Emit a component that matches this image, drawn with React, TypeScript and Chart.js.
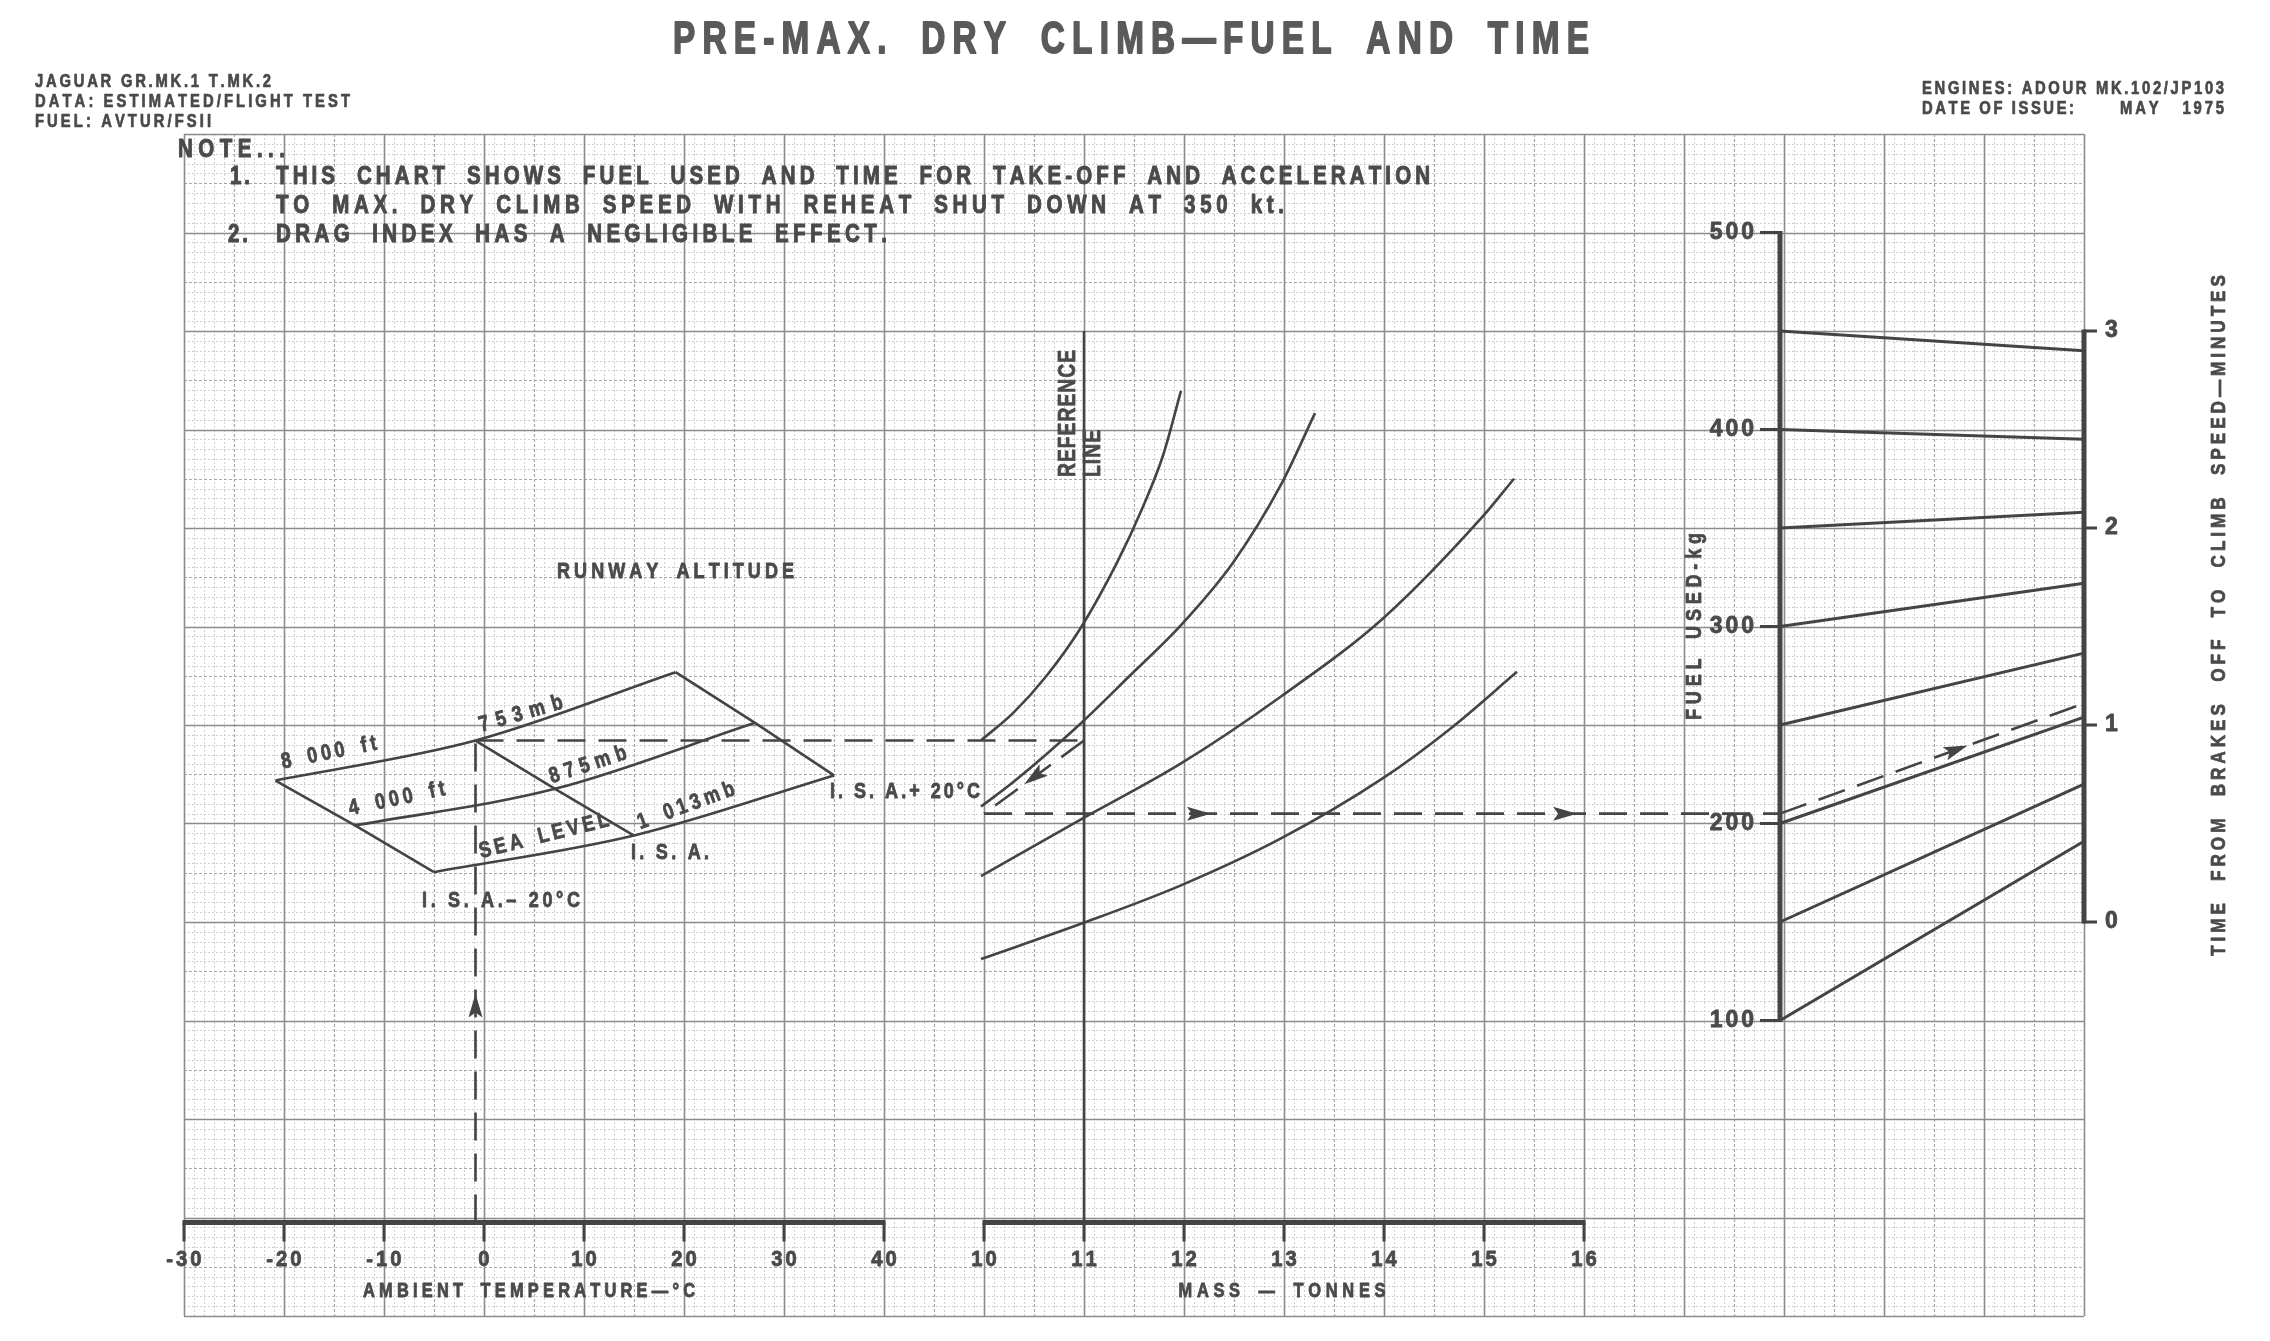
import React, { useEffect, useRef } from 'react';
import { Chart, registerables } from 'chart.js';

Chart.register(...registerables);

// ---------------- axis ticks ----------------
const TEMP_TICKS = [-30, -20, -10, 0, 10, 20, 30, 40];
const MASS_TICKS = [10, 11, 12, 13, 14, 15, 16];
const FUEL_TICKS = [100, 200, 300, 400, 500];
const TIME_TICKS = [0, 1, 2, 3];

// ---------------- left panel: runway altitude (x = ambient temp °C, y = carried value on fuel scale)
// points ordered: I.S.A.-20, I.S.A., I.S.A.+20
const ALT_8000_TEMP = [-20.85, -0.85, 19.15];
const ALT_8000_VAL = [221.8, 242.1, 276.8];
const ALT_4000_TEMP = [-12.9, 7.1, 27.1];
const ALT_4000_VAL = [199.0, 217.6, 251.1];
const ALT_SL_TEMP = [-5, 15, 35];
const ALT_SL_VAL = [175.3, 193.9, 224.4];

// ---------------- middle panel: mass correction guide curves (x = mass t, y = fuel scale)
const CURVE_A_MASS = [9.97, 10.29, 10.62, 10.97, 11.33, 11.58, 11.79, 11.97];
const CURVE_A_VAL = [242.2, 256.0, 274.6, 299.5, 332.4, 359.6, 386.8, 419.6];
const CURVE_B_MASS = [9.97, 10.29, 10.97, 11.45, 11.97, 12.49, 12.97, 13.31];
const CURVE_B_VAL = [208.6, 220.9, 250.9, 274.6, 300.7, 332.4, 372.0, 408.3];
const CURVE_C_MASS = [9.97, 10.97, 11.97, 12.97, 13.99, 14.99, 15.3];
const CURVE_C_VAL = [173.3, 202.1, 230.5, 264.5, 304.1, 356.0, 375.0];
const CURVE_D_MASS = [9.97, 10.97, 11.97, 12.97, 13.99, 14.66, 15.33];
const CURVE_D_VAL = [131.2, 149.1, 168.6, 192.4, 223.0, 248.0, 277.0];

// ---------------- right panel: fuel used (kg) -> time (min) guide lines
const GUIDE_FUEL = [450, 400, 350, 300, 250, 200, 150, 100];
const GUIDE_TIME = [2.9, 2.45, 2.08, 1.72, 1.365, 1.04, 0.7, 0.41];

// ---------------- worked example (dashed)
const EX_TEMP = -0.85;
const EX_REF_VAL = 242.1;
const EX_REF_MASS = 11;
const EX_MASS = 10;
const EX_FUEL = 205;
const EX_TIME = 1.11;

// ---------------- layout (not data)
const W = 2270;
const H = 1341;
const FUEL_AXIS_POS = 17.96; // on mass scale units
const TIME_AXIS_POS = 21;
const BASE_VAL = -2.5; // fuel-scale level of the bottom axes
const REF_TOP_VAL = 450;
const INK = '#444444';
const TEXT_INK = '#4a4a4a';
const TITLE_INK = '#5a5a5a';
const FONT = '"Liberation Sans", Arial, Helvetica, sans-serif';

type Pt = { x: number; y: number };
const pts = (xs: number[], ys: number[]): Pt[] => xs.map((x, i) => ({ x, y: ys[i] }));

type TextOpt = {
  align?: 'left' | 'center' | 'right';
  rot?: number;
  squeeze?: number;
  spaceMul?: number;
  extra?: number;
  color?: string;
  bold?: number;
};

function drawFit(
  ctx: CanvasRenderingContext2D,
  text: string,
  x: number,
  y: number,
  width: number | null,
  size: number,
  o: TextOpt = {}
) {
  const align = o.align ?? 'left';
  const squeeze = o.squeeze ?? 0.82;
  const spaceMul = o.spaceMul ?? 1.8;
  const color = o.color ?? TEXT_INK;
  const emb = o.bold ?? 0.8;
  ctx.save();
  ctx.font = `bold ${size}px ${FONT}`;
  ctx.fillStyle = color;
  ctx.strokeStyle = color;
  ctx.lineWidth = emb;
  ctx.lineJoin = 'round';
  ctx.textBaseline = 'middle';
  ctx.textAlign = 'left';
  const chars = Array.from(text);
  const w = chars.map((c) => ctx.measureText(c).width * (c === ' ' ? spaceMul : 1));
  const sum = w.reduce((a, b) => a + b, 0);
  let s = squeeze;
  const target = width ?? sum * squeeze + (o.extra ?? 0) * (chars.length - 1);
  let extra = chars.length > 1 ? (target - s * sum) / (chars.length - 1) : 0;
  if (chars.length === 1) s = target / sum;
  if (extra < 0) {
    extra = 0;
    s = target / sum;
  }
  ctx.translate(x, y);
  if (o.rot) ctx.rotate((o.rot * Math.PI) / 180);
  let cx = align === 'left' ? 0 : align === 'center' ? -target / 2 : -target;
  chars.forEach((c, i) => {
    ctx.save();
    ctx.translate(cx, 0);
    ctx.scale(s, 1);
    ctx.fillText(c, 0, 0);
    if (emb > 0 && c !== ' ') ctx.strokeText(c, 0, 0);
    ctx.restore();
    cx += w[i] * s + extra;
  });
  ctx.restore();
}

function arrowAt(ctx: CanvasRenderingContext2D, a: Pt, b: Pt, f: number) {
  const px = a.x + (b.x - a.x) * f;
  const py = a.y + (b.y - a.y) * f;
  const ang = Math.atan2(b.y - a.y, b.x - a.x);
  const L = 24;
  const hw = 7;
  ctx.save();
  ctx.translate(px, py);
  ctx.rotate(ang);
  ctx.setLineDash([]);
  ctx.fillStyle = INK;
  ctx.beginPath();
  ctx.moveTo(L / 2, 0);
  ctx.lineTo(-L / 2, -hw);
  ctx.lineTo(-L / 2 + 5, 0);
  ctx.lineTo(-L / 2, hw);
  ctx.closePath();
  ctx.fill();
  ctx.restore();
}

const paperPlugin = {
  id: 'paper',
  beforeDraw(chart: any) {
    const ctx: CanvasRenderingContext2D = chart.ctx;
    const { left, right, top, bottom } = chart.chartArea;
    const xT = chart.scales.xT;
    const yF = chart.scales.yF;
    ctx.save();
    ctx.fillStyle = '#ffffff';
    ctx.fillRect(0, 0, chart.width, chart.height);
    const styles = [
      { c: '#cfcfcf', w: 1, d: [2, 2] },
      { c: '#a8a8a8', w: 1.2, d: [3, 2] },
      { c: '#8c8c8c', w: 1.6, d: [] as number[] },
    ];
    for (let pass = 0; pass < 3; pass++) {
      const st = styles[pass];
      ctx.strokeStyle = st.c;
      ctx.lineWidth = st.w;
      ctx.setLineDash(st.d);
      ctx.beginPath();
      for (let t = -30; t <= 160; t++) {
        const k = t % 10 === 0 ? 2 : t % 5 === 0 ? 1 : 0;
        if (k !== pass) continue;
        const x = Math.round(xT.getPixelForValue(t)) + 0.5;
        ctx.moveTo(x, top);
        ctx.lineTo(x, bottom);
      }
      for (let v = -50; v <= 550; v += 5) {
        const k = v % 50 === 0 ? 2 : v % 25 === 0 ? 1 : 0;
        if (k !== pass) continue;
        const y = Math.round(yF.getPixelForValue(v)) + 0.5;
        ctx.moveTo(left, y);
        ctx.lineTo(right, y);
      }
      ctx.stroke();
    }
    ctx.restore();
  },
};

const annotPlugin = {
  id: 'annot',
  afterDatasetsDraw(chart: any) {
    const ctx: CanvasRenderingContext2D = chart.ctx;
    const xT = chart.scales.xT;
    const xM = chart.scales.xM;
    const yF = chart.scales.yF;
    const yT = chart.scales.yT;
    ctx.save();
    ctx.strokeStyle = INK;
    ctx.lineCap = 'butt';

    // reference line
    const xRef = xM.getPixelForValue(EX_REF_MASS);
    ctx.lineWidth = 2.6;
    ctx.beginPath();
    ctx.moveTo(xRef, yF.getPixelForValue(BASE_VAL));
    ctx.lineTo(xRef, yF.getPixelForValue(REF_TOP_VAL));
    ctx.stroke();

    // bottom axes
    const yAxis = yF.getPixelForValue(BASE_VAL);
    const drawHAxis = (scale: any, ticks: number[]) => {
      ctx.strokeStyle = INK;
      ctx.lineWidth = 5;
      ctx.beginPath();
      ctx.moveTo(scale.getPixelForValue(ticks[0]) - 1.5, yAxis);
      ctx.lineTo(scale.getPixelForValue(ticks[ticks.length - 1]) + 1.5, yAxis);
      ctx.stroke();
      ctx.lineWidth = 3;
      ctx.beginPath();
      ticks.forEach((t) => {
        const x = scale.getPixelForValue(t);
        ctx.moveTo(x, yAxis);
        ctx.lineTo(x, yAxis + 19);
      });
      ctx.stroke();
      ticks.forEach((t) => {
        drawFit(ctx, String(t), scale.getPixelForValue(t), yAxis + 38, null, 22, {
          align: 'center',
          squeeze: 0.92,
          extra: 3,
        });
      });
    };
    drawHAxis(xT, TEMP_TICKS);
    drawHAxis(xM, MASS_TICKS);

    // fuel axis
    const xF = xM.getPixelForValue(FUEL_AXIS_POS);
    ctx.strokeStyle = INK;
    ctx.lineWidth = 5;
    ctx.beginPath();
    ctx.moveTo(xF, yF.getPixelForValue(FUEL_TICKS[0]) + 1.5);
    ctx.lineTo(xF, yF.getPixelForValue(FUEL_TICKS[FUEL_TICKS.length - 1]) - 1.5);
    ctx.stroke();
    ctx.lineWidth = 3;
    ctx.beginPath();
    FUEL_TICKS.forEach((v) => {
      const y = yF.getPixelForValue(v);
      ctx.moveTo(xF, y);
      ctx.lineTo(xF - 20, y);
    });
    ctx.stroke();
    FUEL_TICKS.forEach((v) => {
      drawFit(ctx, String(v), xF - 26, yF.getPixelForValue(v), null, 23, {
        align: 'right',
        squeeze: 1,
        extra: 3,
      });
    });

    // time axis
    const xTm = xM.getPixelForValue(TIME_AXIS_POS);
    ctx.strokeStyle = INK;
    ctx.lineWidth = 5;
    ctx.beginPath();
    ctx.moveTo(xTm, yT.getPixelForValue(TIME_TICKS[0]) + 1.5);
    ctx.lineTo(xTm, yT.getPixelForValue(TIME_TICKS[TIME_TICKS.length - 1]) - 1.5);
    ctx.stroke();
    ctx.lineWidth = 3;
    ctx.beginPath();
    TIME_TICKS.forEach((t) => {
      const y = yT.getPixelForValue(t);
      ctx.moveTo(xTm, y);
      ctx.lineTo(xTm + 13, y);
    });
    ctx.stroke();
    TIME_TICKS.forEach((t) => {
      drawFit(ctx, String(t), xTm + 21, yT.getPixelForValue(t), null, 23, { squeeze: 1 });
    });

    // right panel guide lines
    ctx.strokeStyle = INK;
    ctx.lineWidth = 3;
    ctx.beginPath();
    GUIDE_FUEL.forEach((f, i) => {
      ctx.moveTo(xF, yF.getPixelForValue(f));
      ctx.lineTo(xTm, yT.getPixelForValue(GUIDE_TIME[i]));
    });
    ctx.stroke();

    // worked example (dashed)
    const p0 = { x: xT.getPixelForValue(EX_TEMP), y: yAxis };
    const p1 = { x: xT.getPixelForValue(EX_TEMP), y: yF.getPixelForValue(EX_REF_VAL) };
    const p2 = { x: xM.getPixelForValue(EX_REF_MASS), y: yF.getPixelForValue(EX_REF_VAL) };
    const p3 = { x: xM.getPixelForValue(EX_MASS), y: yF.getPixelForValue(EX_FUEL) };
    const p4 = { x: xF, y: yF.getPixelForValue(EX_FUEL) };
    const p5 = { x: xTm, y: yT.getPixelForValue(EX_TIME) };
    ctx.lineWidth = 2.6;
    ctx.setLineDash([28, 13]);
    [
      [p0, p1],
      [p1, p2],
      [p2, p3],
      [p3, p4],
      [p4, p5],
    ].forEach(([a, b]) => {
      ctx.beginPath();
      ctx.moveTo(a.x, a.y);
      ctx.lineTo(b.x, b.y);
      ctx.stroke();
    });
    ctx.setLineDash([]);
    arrowAt(ctx, p0, p1, 0.45);
    arrowAt(ctx, p2, p3, 0.5);
    arrowAt(ctx, p3, p4, 0.27);
    arrowAt(ctx, p3, p4, 0.73);
    arrowAt(ctx, p4, p5, 0.58);
    ctx.restore();

    // ---------- texts ----------
    drawFit(ctx, 'PRE-MAX. DRY CLIMB—FUEL AND TIME', 673, 41, 916, 45, {
      squeeze: 0.74,
      spaceMul: 2.2,
      color: TITLE_INK,
      bold: 1.8,
    });
    drawFit(ctx, 'JAGUAR GR.MK.1 T.MK.2', 35, 82, 236, 18, { spaceMul: 1, bold: 0.7 });
    drawFit(ctx, 'DATA: ESTIMATED/FLIGHT TEST', 35, 102, 315, 18, { spaceMul: 1, bold: 0.7 });
    drawFit(ctx, 'FUEL: AVTUR/FSII', 35, 122, 176, 18, { spaceMul: 1, bold: 0.7 });
    drawFit(ctx, 'ENGINES: ADOUR MK.102/JP103', 1922, 89, 302, 18, { spaceMul: 1, bold: 0.7 });
    drawFit(ctx, 'DATE OF ISSUE:', 1922, 109, 152, 18, { spaceMul: 1, bold: 0.7 });
    drawFit(ctx, 'MAY   1975', 2224, 109, 104, 18, { align: 'right', spaceMul: 1, bold: 0.7 });

    drawFit(ctx, 'NOTE...', 178, 150, 107, 25, { bold: 1 });
    drawFit(ctx, '1.', 230, 177, 20, 25, { bold: 1 });
    drawFit(ctx, 'THIS CHART SHOWS FUEL USED AND TIME FOR TAKE-OFF AND ACCELERATION', 276, 177, 1154, 25, {
      spaceMul: 2.4,
      bold: 1,
    });
    drawFit(ctx, 'TO MAX. DRY CLIMB SPEED WITH REHEAT SHUT DOWN AT 350 kt.', 276, 206, 1008, 25, {
      spaceMul: 2.4,
      bold: 1,
    });
    drawFit(ctx, '2.', 228, 235, 20, 25, { bold: 1 });
    drawFit(ctx, 'DRAG INDEX HAS A NEGLIGIBLE EFFECT.', 276, 235, 611, 25, { spaceMul: 2.4, bold: 1 });

    drawFit(ctx, 'RUNWAY ALTITUDE', 557, 572, 237, 22, { spaceMul: 2 });
    drawFit(ctx, '8 000 ft', 329, 753, 97, 22, { align: 'center', rot: -11.5 });
    drawFit(ctx, '753mb', 521, 714, 86, 22, { align: 'center', rot: -16 });
    drawFit(ctx, '4 000 ft', 397, 799, 98, 22, { align: 'center', rot: -12 });
    drawFit(ctx, '875mb', 588, 765, 80, 22, { align: 'center', rot: -18 });
    drawFit(ctx, 'SEA LEVEL', 544, 836, 133, 22, { align: 'center', rot: -14 });
    drawFit(ctx, '1 013mb', 686, 806, 102, 22, { align: 'center', rot: -20 });
    drawFit(ctx, 'I. S. A.', 631, 853, 78, 22, { spaceMul: 1 });
    drawFit(ctx, 'I. S. A.+ 20°C', 830, 792, 150, 22, { spaceMul: 1 });
    drawFit(ctx, 'I. S. A.– 20°C', 422, 901, 158, 22, { spaceMul: 1 });

    drawFit(ctx, 'REFERENCE', 1068, 477, 127, 24, { rot: -90, squeeze: 0.8 });
    drawFit(ctx, 'LINE', 1093, 477, 47, 24, { rot: -90, squeeze: 0.8 });

    drawFit(ctx, 'FUEL USED-kg', 1695, 720, 187, 22, { rot: -90, spaceMul: 2 });
    drawFit(ctx, 'TIME FROM BRAKES OFF TO CLIMB SPEED—MINUTES', 2219, 956, 681, 21, {
      rot: -90,
      spaceMul: 3,
      bold: 0.7,
    });

    drawFit(ctx, 'AMBIENT TEMPERATURE—°C', 529, 1291, 332, 20, { align: 'center', spaceMul: 2 });
    drawFit(ctx, 'MASS — TONNES', 1282, 1291, 207, 20, { align: 'center', spaceMul: 2 });
  },
};

export default function App() {
  const ref = useRef<HTMLCanvasElement>(null);

  useEffect(() => {
    document.body.style.margin = '0';
    document.body.style.overflow = 'hidden';
    const canvas = ref.current;
    if (!canvas) return;

    const ds = (data: Pt[], xAxisID: string, curved: boolean) => ({
      data,
      xAxisID,
      yAxisID: 'yF',
      borderColor: INK,
      borderWidth: 2.6,
      pointRadius: 0,
      fill: false,
      tension: 0,
      cubicInterpolationMode: curved ? 'monotone' : 'default',
    });

    const datasets: any[] = [
      ds(pts(ALT_8000_TEMP, ALT_8000_VAL), 'xT', true),
      ds(pts(ALT_4000_TEMP, ALT_4000_VAL), 'xT', true),
      ds(pts(ALT_SL_TEMP, ALT_SL_VAL), 'xT', true),
      ds(
        pts([ALT_8000_TEMP[0], ALT_4000_TEMP[0], ALT_SL_TEMP[0]], [ALT_8000_VAL[0], ALT_4000_VAL[0], ALT_SL_VAL[0]]),
        'xT',
        false
      ),
      ds(
        pts([ALT_8000_TEMP[1], ALT_4000_TEMP[1], ALT_SL_TEMP[1]], [ALT_8000_VAL[1], ALT_4000_VAL[1], ALT_SL_VAL[1]]),
        'xT',
        false
      ),
      ds(
        pts([ALT_8000_TEMP[2], ALT_4000_TEMP[2], ALT_SL_TEMP[2]], [ALT_8000_VAL[2], ALT_4000_VAL[2], ALT_SL_VAL[2]]),
        'xT',
        false
      ),
      ds(pts(CURVE_A_MASS, CURVE_A_VAL), 'xM', true),
      ds(pts(CURVE_B_MASS, CURVE_B_VAL), 'xM', true),
      ds(pts(CURVE_C_MASS, CURVE_C_VAL), 'xM', true),
      ds(pts(CURVE_D_MASS, CURVE_D_VAL), 'xM', true),
    ];

    const chart = new Chart(canvas, {
      type: 'line',
      data: { datasets },
      options: {
        responsive: false,
        animation: false,
        events: [],
        layout: { padding: { left: 184, right: 186, top: 134, bottom: 25 } },
        plugins: {
          legend: { display: false },
          tooltip: { enabled: false },
          title: { display: false },
        },
        scales: {
          xT: { type: 'linear', position: 'bottom', min: -30, max: 160, display: false },
          xM: { type: 'linear', position: 'bottom', min: 2, max: 21, display: false },
          yF: { type: 'linear', position: 'left', min: -50, max: 550, display: false },
          yT: { type: 'linear', position: 'right', min: -2, max: 4, display: false },
        },
      } as any,
      plugins: [paperPlugin, annotPlugin],
    });

    return () => chart.destroy();
  }, []);

  return (
    <div style={{ position: 'absolute', left: 0, top: 0, width: W, height: H, background: '#ffffff' }}>
      <canvas ref={ref} width={W} height={H} style={{ display: 'block', width: W, height: H }} />
    </div>
  );
}
